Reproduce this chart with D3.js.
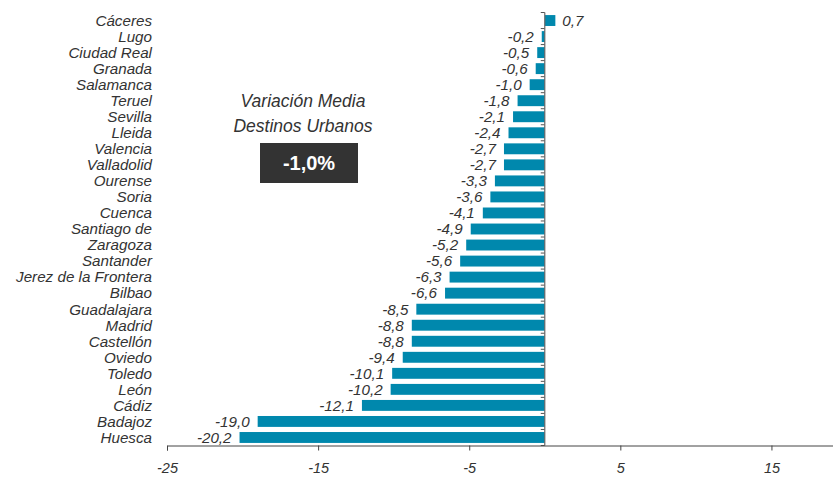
<!DOCTYPE html>
<html>
<head>
<meta charset="utf-8">
<style>
  body { margin: 0; background: #fff; }
  svg { display: block; font-family: 'Liberation Sans', Arial, sans-serif; }
  .lbl { font-style: italic; fill: #333; font-size: 15.2px; }
</style>
</head>
<body>
<svg width="833" height="477"></svg>
<script src="https://d3js.org/d3.v7.min.js"></script>
<script>
  // data
  let cities = ["Cáceres", "Lugo", "Ciudad Real", "Granada", "Salamanca", "Teruel", "Sevilla",
    "Lleida", "Valencia", "Valladolid", "Ourense", "Soria", "Cuenca", "Santiago de", "Zaragoza",
    "Santander", "Jerez de la Frontera", "Bilbao", "Guadalajara", "Madrid", "Castellón", "Oviedo",
    "Toledo", "León", "Cádiz", "Badajoz", "Huesca"]
  let values = [0.7, -0.2, -0.5, -0.6, -1.0, -1.8, -2.1, -2.4, -2.7, -2.7, -3.3, -3.6, -4.1, -4.9,
    -5.2, -5.6, -6.3, -6.6, -8.5, -8.8, -8.8, -9.4, -10.1, -10.2, -12.1, -19.0, -20.2]
  let xTicks = [-25, -15, -5, 5, 15]
  let avgTitle = ["Variación Media", "Destinos Urbanos"]
  let avgValue = -1.0

  let fmt = v => v.toFixed(1).replace(".", ",")
  let data = cities.map((c, i) => ({ city: c, value: values[i] }))

  let svg = d3.select("svg")

  let x = d3.scaleLinear().domain([-25, 20]).range([167, 847])
  let y = d3.scaleBand().domain(cities).range([12.5, 445.5]).paddingInner(0.32).paddingOuter(0.16)

  // bars
  svg.selectAll(".bar")
    .data(data)
    .join("rect")
    .attr("x", d => x(Math.min(0, d.value)))
    .attr("width", d => Math.abs(x(d.value) - x(0)))
    .attr("y", d => y(d.city))
    .attr("height", y.bandwidth())
    .style("fill", "#0088ad")

  // value labels
  svg.selectAll(".val")
    .data(data)
    .join("text")
    .attr("class", "lbl")
    .attr("x", d => d.value < 0 ? x(d.value) - 8 : x(d.value) + 7)
    .attr("y", d => y(d.city) + y.bandwidth() / 2)
    .attr("dy", "0.35em")
    .attr("text-anchor", d => d.value < 0 ? "end" : "start")
    .text(d => fmt(d.value))

  // category labels
  svg.selectAll(".cat")
    .data(data)
    .join("text")
    .attr("class", "lbl")
    .attr("x", 152)
    .attr("y", d => y(d.city) + y.bandwidth() / 2)
    .attr("dy", "0.35em")
    .attr("text-anchor", "end")
    .text(d => d.city)

  // vertical axis at zero with ticks between categories
  let bounds = d3.range(cities.length + 1).map(i => 12.5 + i * (433 / cities.length))
  svg.selectAll(".ytick")
    .data(bounds)
    .join("line")
    .attr("x1", x(0) - 4).attr("x2", x(0))
    .attr("y1", d => d).attr("y2", d => d)
    .style("stroke", "#555")
    .style("stroke-width", 1)
  svg.append("line")
    .attr("x1", x(0)).attr("x2", x(0))
    .attr("y1", 12.5).attr("y2", 445.5)
    .style("stroke", "#666")
    .style("stroke-width", 1.2)

  // bottom axis
  let xAxis = svg.append("g")
    .attr("transform", "translate(0,445.5)")
    .call(d3.axisBottom(x).tickValues(xTicks).tickSize(5).tickPadding(12).tickFormat(d => d))
  xAxis.select(".domain").style("stroke", "#444")
  xAxis.selectAll(".tick line").style("stroke", "#444")
  xAxis.selectAll("text")
    .style("font-family", "'Liberation Sans', Arial, sans-serif")
    .style("font-size", "14.5px")
    .style("font-style", "italic")
    .style("fill", "#333")

  // average box
  svg.selectAll(".avgt")
    .data(avgTitle)
    .join("text")
    .attr("x", 303)
    .attr("y", (d, i) => 101 + i * 24.5)
    .attr("dy", "0.35em")
    .attr("text-anchor", "middle")
    .style("font-size", "17.5px")
    .style("font-style", "italic")
    .style("fill", "#333")
    .text(d => d)

  svg.append("rect")
    .attr("x", 260).attr("y", 143)
    .attr("width", 98).attr("height", 40)
    .style("fill", "#333")

  svg.append("text")
    .attr("x", 309).attr("y", 163)
    .attr("dy", "0.35em")
    .attr("text-anchor", "middle")
    .style("font-size", "20px")
    .style("font-weight", "bold")
    .style("fill", "#fff")
    .text(fmt(avgValue) + "%")
</script>
</body>
</html>
